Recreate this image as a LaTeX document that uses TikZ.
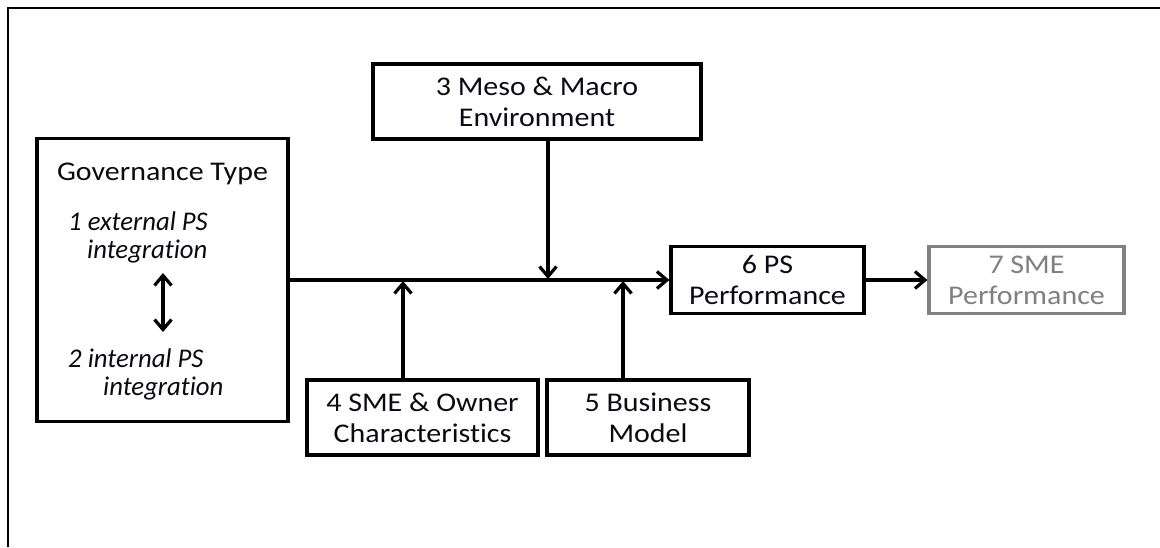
\documentclass[tikz,border=0pt]{standalone}
\usepackage{fontspec}
\setmainfont{Carlito}[Ligatures=NoCommon,
  UprightFeatures={FakeStretch=1.11},
  ItalicFeatures={FakeStretch=0.99}]
\usetikzlibrary{arrows.meta}
\definecolor{txt}{RGB}{10,10,20}
\definecolor{graybox}{RGB}{128,128,128}
\begin{document}
\begin{tikzpicture}[x=1pt,y=-1pt,
  lbl/.style={font=\fontsize{27}{31}\selectfont, text=txt, inner sep=0pt},
  ilbl/.style={font=\fontsize{27}{31}\selectfont\itshape, text=txt, inner sep=0pt},
  box/.style={draw, line width=3.2pt, rectangle, align=center, inner sep=0pt,
    font=\fontsize{27}{31}\selectfont, text=txt},
  graystyle/.style={draw=graybox, text=graybox},
  conn/.style={line width=3.2pt, -{Straight Barb[length=10pt,width=17pt]}},
  dbl/.style={line width=3.2pt, {Straight Barb[length=10pt,width=17pt]}-{Straight Barb[length=10pt,width=17pt]}},
  frame/.style={line width=2pt}
]
\useasboundingbox (0,0) rectangle (1160,547);
\draw[frame] (8,547) -- (8,8) -- (1160,8);

% Governance box
\node[box, minimum width=251pt, minimum height=283pt] (gov) at (162.5,280) {};
\node[lbl, anchor=base] (govt) at (162.5,180.7) {Governance Type};
\node[ilbl, anchor=base west] (ext1) at (68,230) {1 external PS};
\node[ilbl, anchor=base west] (ext2) at (87,258) {integration};
\node[ilbl, anchor=base west] (int1) at (68,367) {2 internal PS};
\node[ilbl, anchor=base west] (int2) at (103,395) {integration};
\coordinate (da) at (163,273);
\coordinate (db) at (163,332);
\draw[dbl] (da) -- (db);

% other boxes
\node[box, minimum width=328pt, minimum height=75pt] (meso) at (537,101.5) {3 Meso \& Macro\\Environment};
\node[box, minimum width=193pt, minimum height=67pt] (ps6) at (767.5,280) {6 PS\\Performance};
\node[box, graystyle, minimum width=195pt, minimum height=67pt] (sme7) at (1026.5,280) {7 SME\\Performance};
\node[box, minimum width=231pt, minimum height=75pt] (sme4) at (422.5,417.5) {4 SME \& Owner\\Characteristics};
\node[box, minimum width=202pt, minimum height=75pt] (bm5) at (648,417.5) {5 Business\\Model};

% connectors
\draw[conn] (gov.east) -- (ps6.west);
\coordinate (j3) at (548,279);
\coordinate (j4) at (403,281);
\coordinate (j5) at (623,281);
\draw[conn] (meso.south -| j3) -- (j3);
\draw[conn] (sme4.north -| j4) -- (j4);
\draw[conn] (bm5.north -| j5) -- (j5);
\draw[conn] (ps6.east) -- (sme7.west);
\end{tikzpicture}
\end{document}
